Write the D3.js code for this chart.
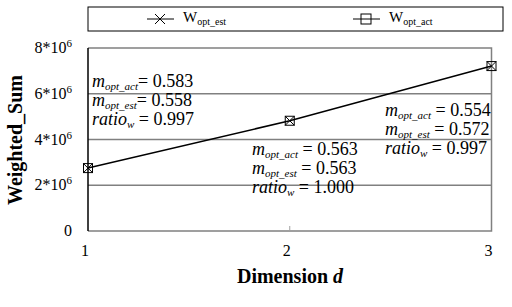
<!DOCTYPE html>
<html>
<head>
<meta charset="utf-8">
<script src="https://cdn.jsdelivr.net/npm/d3@7"></script>
<style>
body{margin:0;background:#fff;}
</style>
</head>
<body>
<div id="screen"></div>
<script>
//dimensions on the x axis
var dims = [1, 2, 3];
//weighted sums, estimated and actual optimum (they overlap)
var wEst = [2.75e6, 4.82e6, 7.21e6];
var wAct = [2.75e6, 4.82e6, 7.21e6];
//y tick values
var yTicks = [0, 2e6, 4e6, 6e6, 8e6];
//annotation numbers per dimension
var mAct = ["0.583", "0.563", "0.554"];
var mEst = ["0.558", "0.563", "0.572"];
var ratioW = ["0.997", "1.000", "0.997"];

var WIDTH = 512, HEIGHT = 307;
var FONT = "Liberation Serif";
var svg = d3.select("#screen").append("svg")
    .attr("width", WIDTH).attr("height", HEIGHT);

var x = d3.scaleLinear().domain([1, 3]).range([88, 491.5]);
var y = d3.scaleLinear().domain([0, 8e6]).range([231, 48]);

//grid lines
svg.selectAll(".grid").data(yTicks.filter(d => d > 0 && d < 8e6)).enter()
    .append("line")
    .attr("x1", x(1)).attr("x2", x(3))
    .attr("y1", d => y(d)).attr("y2", d => y(d))
    .attr("stroke", "#808080").attr("stroke-width", 1.5);

//frame: top, right, bottom gray, left black
svg.append("path")
    .attr("d", "M" + x(1) + "," + y(8e6) + "H" + x(3) + "V" + y(0) + "H" + x(1))
    .attr("fill", "none").attr("stroke", "#808080").attr("stroke-width", 1.5);
svg.append("line")
    .attr("x1", x(1)).attr("x2", x(1)).attr("y1", y(8e6)).attr("y2", y(0))
    .attr("stroke", "#000").attr("stroke-width", 1.5);
//small inner tick at d=2
svg.append("line")
    .attr("x1", x(2)).attr("x2", x(2)).attr("y1", y(0)).attr("y2", y(0) - 5)
    .attr("stroke", "#a0a0a0").attr("stroke-width", 1);

//y tick labels with superscript
var yl = svg.selectAll(".ylab").data(yTicks).enter()
    .append("text")
    .attr("x", 72).attr("y", d => y(d) + 5)
    .attr("text-anchor", "end")
    .attr("font-size", 16);
yl.each(function(d){
    var t = d3.select(this);
    if(d == 0){ t.text("0"); return; }
    t.append("tspan").text((d / 1e6) + "*10");
    t.append("tspan").attr("dy", -6).attr("font-size", 11).text("6");
});

//x tick labels
svg.selectAll(".xlab").data(dims).enter()
    .append("text")
    .attr("x", d => x(d) - 3).attr("y", 256)
    .attr("text-anchor", "middle").attr("font-size", 16)
    .text(d => d);

//axis titles
var xt = svg.append("text").attr("x", 290).attr("y", 283)
    .attr("text-anchor", "middle").attr("font-size", 20).attr("font-weight", "bold");
xt.append("tspan").text("Dimension ");
xt.append("tspan").attr("font-style", "italic").text("d");

svg.append("text")
    .attr("transform", "translate(22,140) rotate(-90)")
    .attr("text-anchor", "middle").attr("font-size", 20).attr("font-weight", "bold")
    .text("Weighted_Sum");

//line
var line = d3.line().x((d, i) => x(dims[i])).y(d => y(d));
svg.append("path").datum(wEst).attr("d", line)
    .attr("fill", "none").attr("stroke", "#000").attr("stroke-width", 1.5);

//markers: square (act) with cross (est)
function cross(g, cx, cy, s){
    g.append("path")
        .attr("d", "M" + (cx - s) + "," + (cy - s) + "L" + (cx + s) + "," + (cy + s) +
                   "M" + (cx - s) + "," + (cy + s) + "L" + (cx + s) + "," + (cy - s))
        .attr("stroke", "#000").attr("stroke-width", 1);
}
function square(g, cx, cy, s){
    g.append("rect").attr("x", cx - s).attr("y", cy - s)
        .attr("width", 2 * s).attr("height", 2 * s)
        .attr("fill", "none").attr("stroke", "#000").attr("stroke-width", 1);
}
var mk = svg.append("g");
wAct.forEach(function(v, i){ square(mk, x(dims[i]), y(v), 4.5); });
wEst.forEach(function(v, i){ cross(mk, x(dims[i]), y(wEst[i]), 4.5); });

//annotations
var annPos = [[92, 87], [252, 155], [385, 116]];
function annLine(px, py, name, sub, val){
    var t = svg.append("text").attr("x", px).attr("y", py).attr("font-size", 18);
    t.append("tspan").attr("font-style", "italic").text(name);
    t.append("tspan").attr("font-style", "italic").attr("font-size", 11).attr("dy", 3).text(sub);
    t.append("tspan").attr("dy", -3).text(val);
}
dims.forEach(function(d, i){
    var p = annPos[i];
    var eq = i == 0 ? "= " : " = ";
    annLine(p[0], p[1], "m", "opt_act", eq + mAct[i]);
    annLine(p[0], p[1] + 19, "m", "opt_est", eq + mEst[i]);
    annLine(p[0], p[1] + 38, "ratio", "w", " = " + ratioW[i]);
});

//legend
var leg = svg.append("g");
leg.append("rect").attr("x", 88).attr("y", 7).attr("width", 415).attr("height", 24)
    .attr("fill", "none").attr("stroke", "#000").attr("stroke-width", 1);
var legItems = [["opt_est", 160, "x"], ["opt_act", 366, "s"]];
legItems.forEach(function(it){
    var cx = it[1], cy = 19;
    leg.append("line").attr("x1", cx - 13).attr("x2", cx + 14).attr("y1", cy).attr("y2", cy)
        .attr("stroke", "#000").attr("stroke-width", 1);
    if(it[2] == "x") cross(leg, cx, cy, 5); else square(leg, cx, cy, 5);
    var t = leg.append("text").attr("x", cx + 23).attr("y", cy + 3).attr("font-size", 15);
    t.append("tspan").text("W");
    t.append("tspan").attr("font-size", 10).attr("dy", 3).text(it[0]);
});

//every text in the serif face
svg.selectAll("text").attr("font-family", FONT);
</script>
</body>
</html>
